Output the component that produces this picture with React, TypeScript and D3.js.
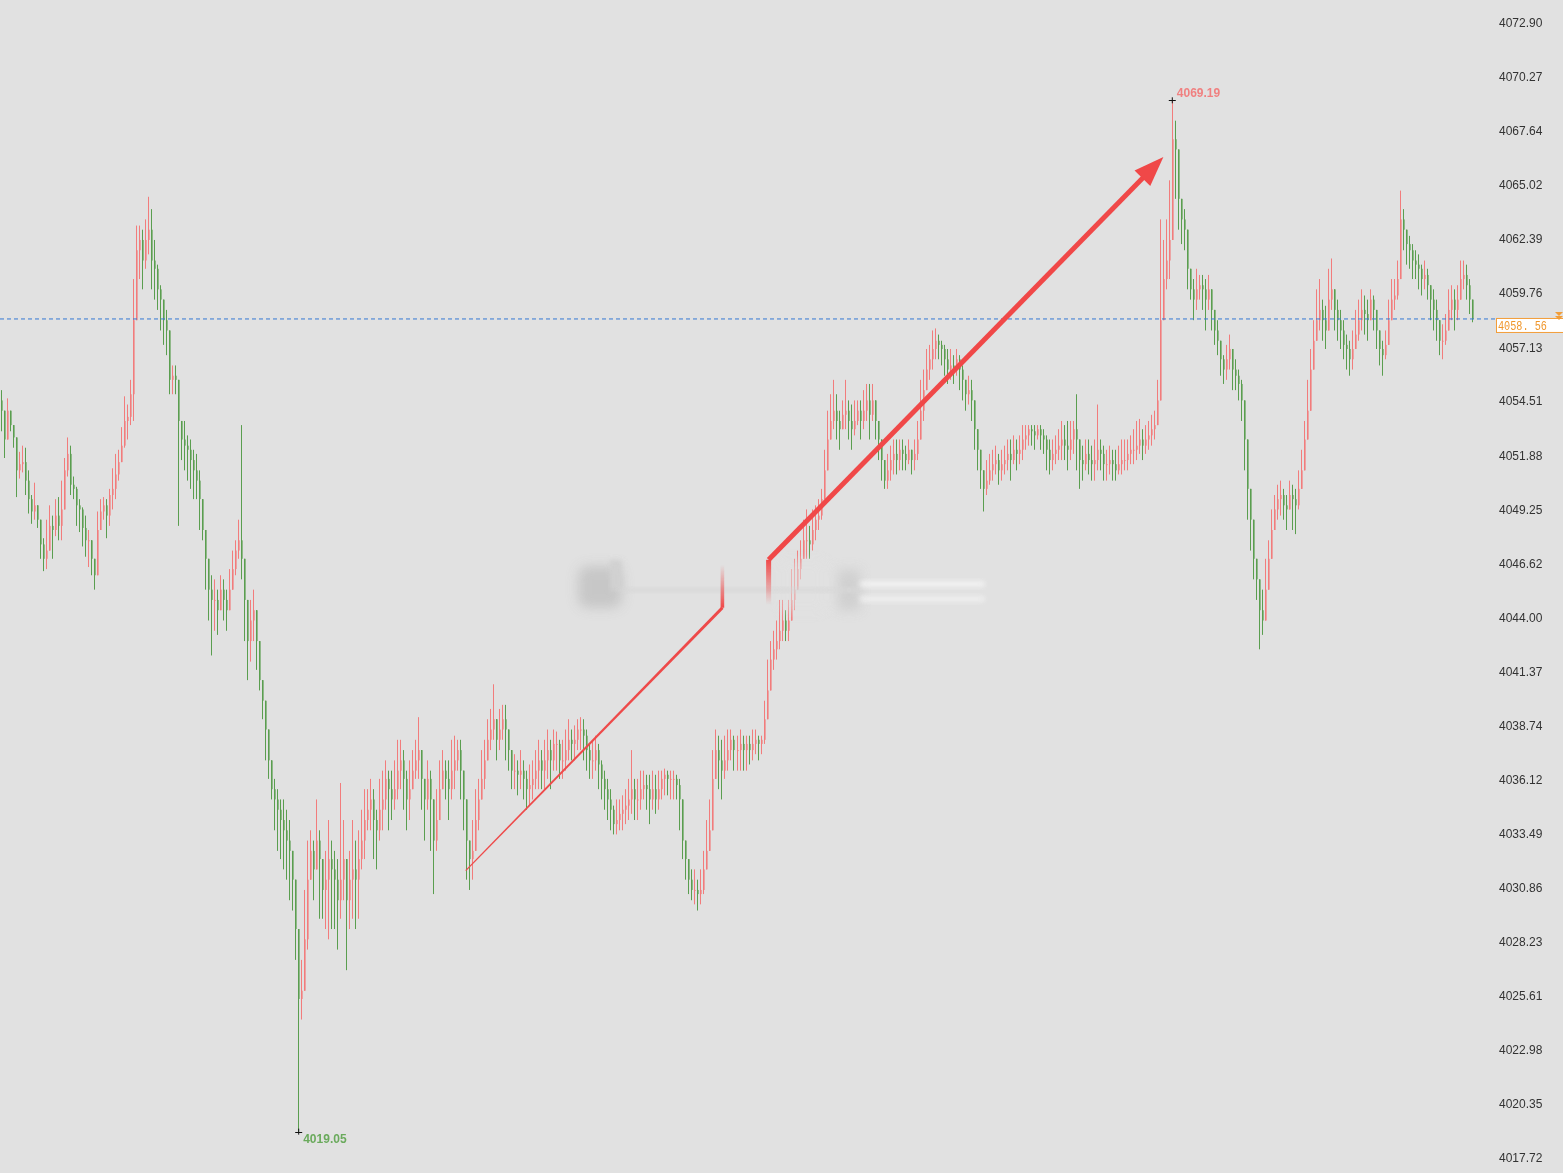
import React from 'react';
import * as d3 from 'd3';

const W = 1563;
const H = 1173;
const BASE = 4000;

// Candle closes (offset from 4000); open = previous close
const closeOff = [
  54.1, 52.7, 54.1, 53.4, 52.8, 51.2, 51.5, 51.6, 50.7, 49.8,
  49.2, 49.5, 48.8, 47.6, 46.9, 47.3, 48.5, 48.3, 49.0, 48.5,
  49.3, 51.2, 52.0, 50.5, 50.3, 49.5, 49.3, 48.4, 47.8, 47.8,
  46.9, 46.1, 48.3, 49.2, 49.5, 49.0, 50.0, 50.3, 51.0, 51.6,
  52.4, 53.6, 53.8, 54.9,
  58.5, 61.9, 62.4, 61.4, 62.4, 62.9, 61.4, 61.0, 60.0, 59.5,
  58.5, 58.0, 55.6, 55.8, 55.6, 53.6, 52.7, 52.4, 52.2, 51.7,
  51.2, 50.7, 49.8, 48.3, 46.9, 45.4, 44.9, 44.9, 44.4, 45.4,
  44.9, 44.4, 45.4, 46.4, 47.3, 47.8, 46.9, 44.9, 42.9, 43.9,
  44.4, 42.9, 41.0, 40.0, 38.6, 37.1, 35.7, 35.2, 34.7, 34.2,
  33.7, 33.2, 32.7, 31.3, 28.9, 25.5, 25.9, 28.4, 31.3, 32.7,
  31.8, 33.2, 32.3, 30.8, 31.3, 32.3, 31.8, 31.3, 30.3, 31.3,
  32.3, 30.3, 31.3, 31.8, 31.3, 32.3, 33.2, 34.2, 34.7, 35.2,
  34.2, 33.7, 34.7, 35.2, 36.2, 35.7, 35.2, 35.7, 36.6, 37.1,
  36.2, 35.2, 35.7, 36.6, 37.1, 37.6, 36.2, 35.2, 36.2, 35.2,
  33.2, 34.2, 35.7, 36.6, 36.2, 35.7, 36.6, 37.1, 37.6, 36.6,
  35.2, 33.2, 32.3, 32.7, 34.2, 35.2, 36.2, 37.1, 38.1, 38.6,
  39.1, 38.1, 38.6, 39.1, 38.6, 37.6, 36.6, 36.6, 36.4, 36.6,
  36.2, 35.7, 35.9, 36.2, 36.6, 37.1, 36.6, 37.1, 37.6, 37.1,
  37.9, 37.9, 37.1, 37.1, 37.6, 38.1, 37.9, 38.1, 38.6, 38.6,
  38.3, 37.6, 37.1, 37.1, 37.6, 36.9, 36.2, 35.7, 35.2, 34.7,
  34.0, 34.2, 34.5, 34.7, 34.9, 35.2, 35.7, 35.2, 35.2, 35.7,
  35.9, 35.7, 35.2, 35.7, 35.2, 35.7, 36.2, 36.4, 36.2, 36.2,
  36.2, 35.9, 35.2, 33.2, 32.3, 31.3, 30.8, 30.8, 30.6, 30.8,
  31.8, 32.7, 33.7, 36.2, 37.6, 37.1, 36.6, 37.1, 37.6, 38.1,
  37.6, 37.6, 37.9, 37.6, 37.9, 37.6, 37.9, 38.1, 37.9, 38.1,
  39.1, 40.5, 42.0, 42.5, 42.9, 43.4, 43.9, 43.4, 43.9, 44.9,
  45.4, 46.4, 46.9, 47.8, 47.8, 47.6, 48.3, 48.8, 49.0, 49.8,
  51.2, 52.7, 53.6, 54.1, 53.6, 53.2, 53.9, 54.1, 53.6, 53.2,
  53.6, 54.1, 53.6, 54.1, 54.6, 53.9, 54.6, 53.6, 52.7, 51.7,
  50.7, 51.2, 51.7, 52.0, 51.7, 52.2, 52.0, 51.7, 52.2, 51.7,
  52.0, 52.7, 54.1, 55.1, 56.1, 56.6, 57.1, 57.5, 57.3, 57.1,
  56.6, 56.1, 56.3, 56.1, 56.6, 56.1, 55.6, 54.9, 55.1, 54.6,
  53.2, 52.2, 51.2, 50.3, 50.7, 51.2, 51.5, 51.7, 51.2, 51.5,
  51.7, 52.0, 51.7, 52.2, 52.0, 52.2, 52.7, 52.9, 53.2, 53.1,
  52.9, 53.2, 52.9, 52.7, 52.2, 51.7, 52.0, 52.2, 52.4, 52.7,
  52.4, 52.2, 52.7, 53.2, 52.7, 51.7, 51.5, 52.0, 51.7, 51.5,
  51.7, 52.2, 52.0, 51.5, 51.5, 51.7, 51.5, 51.2, 51.5, 51.7,
  51.7, 52.0, 52.2, 52.2, 52.4, 52.7, 52.4, 52.7, 52.9, 53.2,
  53.4, 54.6, 58.5, 60.5, 61.4, 62.4, 67.3, 66.8, 64.4, 63.4,
  62.9, 61.0, 60.0, 59.5, 60.0, 60.2, 60.0, 59.5, 60.0, 59.0,
  58.0, 57.5, 56.6, 56.1, 56.6, 57.1, 56.1, 55.8, 55.4, 54.6,
  52.7, 50.3, 48.8, 46.9, 45.9, 44.4, 43.9, 45.4, 46.9, 48.3,
  49.3, 49.8, 50.0, 49.5, 49.3, 50.0, 49.8, 49.5, 50.3, 51.2,
  52.7, 54.1, 56.1, 57.5, 58.5, 59.0, 58.5, 58.0, 59.5, 60.0,
  59.0, 58.5, 58.0, 57.3, 57.1, 56.6, 57.1, 57.8, 58.5, 59.0,
  58.8, 58.5, 59.5, 59.0, 58.0, 57.1, 56.8, 57.3, 58.5, 59.5,
  59.7, 60.5, 63.4, 62.9, 62.2, 61.9, 61.4, 61.2, 61.0, 60.5,
  60.7, 60.2, 59.5, 59.0, 58.5, 57.5, 57.5, 58.0, 59.0, 59.5,
  59.0, 59.5, 60.5, 60.7, 60.2, 59.5, 58.56,
];

const highOff = [
  55.1, 53.4, 54.7, 54.1, 53.4, 52.3, 52.1, 52.4, 52.3, 51.2,
  50.0, 50.6, 49.5, 48.7, 47.9, 48.8, 49.5, 49.0, 49.8, 49.9,
  50.7, 51.8, 52.8, 52.4, 50.9, 50.4, 49.8, 49.4, 49.0, 48.3,
  47.4, 46.9, 49.2, 49.8, 49.9, 49.8, 50.3, 51.3, 52.0, 52.2,
  53.3, 54.8, 54.4, 55.6,
  60.5, 63.1, 63.1, 62.9, 63.4, 64.5, 63.9, 62.4, 61.2, 60.2,
  59.5, 59.0, 56.6, 56.3, 56.3, 54.6, 53.6, 53.6, 52.9, 52.7,
  52.2, 52.0, 51.2, 49.8, 47.8, 46.4, 46.1, 45.9, 45.4, 46.1,
  45.9, 45.4, 46.4, 47.3, 47.8, 48.8, 53.4, 45.9, 44.4, 44.9,
  45.4, 44.4, 42.5, 41.0, 39.6, 38.1, 36.6, 36.2, 35.7, 35.2,
  35.2, 34.7, 34.2, 32.3, 30.1, 28.4, 27.4, 30.8, 33.2, 33.7,
  33.2, 35.2, 33.7, 32.3, 32.7, 34.2, 33.2, 32.7, 32.3, 36.0,
  34.2, 31.8, 32.7, 34.2, 33.2, 33.7, 34.7, 35.7, 35.7, 36.2,
  35.7, 34.7, 36.2, 36.6, 37.1, 36.6, 36.6, 37.1, 38.1, 38.1,
  37.6, 36.6, 37.1, 37.6, 38.1, 39.2, 37.1, 36.2, 37.1, 36.6,
  34.7, 35.7, 37.1, 37.6, 37.1, 37.1, 38.1, 38.3, 38.1, 38.1,
  36.2, 34.7, 33.2, 34.2, 35.7, 36.2, 37.6, 38.1, 39.1, 39.6,
  40.8, 39.1, 39.6, 39.8, 39.8, 38.6, 37.6, 37.4, 37.1, 37.6,
  37.1, 36.6, 36.9, 37.1, 37.6, 38.1, 37.6, 38.1, 38.6, 38.1,
  38.6, 38.5, 38.1, 38.1, 38.6, 39.1, 38.6, 38.8, 39.1, 39.2,
  39.1, 38.6, 37.9, 38.1, 38.3, 37.9, 37.1, 36.6, 36.2, 35.7,
  34.9, 35.2, 35.2, 35.4, 35.7, 36.2, 37.6, 36.2, 36.2, 36.6,
  36.6, 36.4, 36.4, 36.6, 36.4, 36.6, 36.6, 36.7, 36.6, 36.6,
  36.6, 36.4, 36.2, 34.7, 33.2, 32.3, 31.8, 31.8, 31.3, 31.8,
  32.7, 34.2, 35.2, 37.6, 38.6, 38.3, 38.1, 38.3, 38.6, 38.6,
  38.3, 38.3, 38.6, 38.3, 38.3, 38.3, 38.6, 38.6, 38.3, 38.3,
  40.0, 42.0, 42.9, 43.4, 43.9, 44.9, 44.9, 44.4, 44.9, 46.4,
  46.9, 47.3, 47.8, 48.8, 49.3, 48.5, 49.3, 49.5, 49.8, 50.3,
  52.2, 54.1, 54.9, 55.6, 54.9, 54.1, 54.6, 55.6, 54.6, 54.4,
  54.6, 54.6, 54.6, 55.1, 55.4, 55.4, 55.4, 54.6, 53.6, 52.7,
  51.7, 52.0, 52.4, 52.7, 52.7, 52.7, 52.7, 52.4, 52.7, 52.2,
  52.7, 53.6, 55.6, 56.1, 57.1, 57.3, 58.0, 58.1, 57.8, 57.5,
  57.3, 57.1, 57.1, 56.8, 57.1, 56.8, 56.3, 55.6, 55.8, 55.6,
  54.1, 53.2, 52.2, 51.2, 51.7, 52.0, 52.2, 52.4, 52.0, 52.2,
  52.4, 52.7, 52.7, 52.9, 52.7, 52.9, 53.4, 53.4, 53.4, 53.4,
  53.4, 53.4, 53.4, 53.2, 52.9, 52.7, 52.7, 52.9, 53.2, 53.6,
  53.4, 53.6, 53.6, 53.6, 54.9, 52.7, 52.4, 52.7, 52.7, 52.4,
  52.7, 54.4, 52.7, 52.4, 52.2, 52.4, 52.2, 52.2, 52.4, 52.7,
  52.7, 52.7, 52.9, 53.2, 53.6, 53.7, 53.2, 53.4, 53.6, 53.9,
  54.1, 55.6, 63.4, 62.4, 63.4, 65.3, 69.19, 68.2, 65.8, 64.4,
  63.9, 61.9, 61.0, 60.5, 61.0, 60.7, 60.7, 60.5, 60.7, 59.7,
  59.0, 58.5, 57.5, 56.8, 57.3, 57.8, 57.1, 56.6, 56.1, 55.6,
  53.6, 51.2, 49.8, 48.3, 46.9, 45.9, 45.4, 46.9, 47.8, 49.3,
  50.0, 50.5, 50.7, 50.3, 50.0, 50.7, 50.5, 50.3, 51.2, 52.2,
  53.6, 55.6, 57.1, 58.5, 60.0, 60.5, 59.5, 59.2, 61.0, 61.5,
  60.0, 59.5, 59.0, 58.5, 57.8, 57.5, 58.0, 59.0, 59.5, 60.0,
  59.7, 59.5, 60.0, 59.7, 59.0, 58.0, 57.5, 58.0, 59.5, 60.5,
  60.5, 61.4, 64.8, 63.9, 62.9, 62.6, 62.2, 61.9, 61.7, 61.2,
  61.4, 61.0, 60.2, 60.0, 59.5, 58.5, 58.3, 58.8, 60.0, 60.2,
  60.0, 60.2, 61.4, 61.4, 61.2, 60.5, 59.5,
];

const lowOff = [
  53.1, 51.8, 53.1, 53.1, 52.3, 49.9, 50.8, 51.1, 50.0, 49.1,
  48.6, 48.8, 48.4, 46.9, 46.3, 46.4, 47.6, 46.9, 48.0, 47.8,
  47.8, 50.3, 50.9, 50.0, 49.8, 48.5, 48.2, 47.5, 47.0, 46.5,
  46.1, 45.4, 46.4, 48.5, 48.8, 47.9, 48.5, 49.3, 49.8, 50.7,
  51.6, 52.3, 52.7, 53.4,
  53.6, 59.5, 60.5, 60.0, 61.0, 61.7, 60.0, 59.5, 59.0, 58.0,
  57.3, 56.8, 54.9, 54.9, 54.9, 48.5, 51.7, 51.2, 50.7, 50.3,
  49.8, 49.8, 48.3, 47.8, 45.4, 43.9, 42.2, 43.4, 43.2, 44.4,
  43.9, 43.4, 44.4, 45.4, 46.1, 46.9, 45.9, 42.9, 41.0, 41.9,
  42.9, 41.5, 40.5, 39.1, 37.1, 36.2, 35.2, 33.7, 32.7, 32.3,
  31.8, 31.3, 30.3, 29.8, 27.4, 19.05, 24.5, 25.9, 27.9, 31.3,
  30.3, 31.8, 29.4, 29.4, 28.9, 28.4, 28.9, 28.9, 27.9, 29.4,
  30.3, 26.9, 28.9, 29.4, 28.9, 29.4, 31.8, 32.3, 33.7, 33.7,
  32.3, 31.8, 33.2, 33.7, 34.7, 33.7, 34.2, 34.7, 35.2, 35.7,
  34.7, 33.7, 34.2, 35.7, 36.2, 36.2, 34.7, 33.2, 34.7, 32.7,
  30.6, 32.7, 34.7, 35.7, 35.2, 34.2, 35.2, 35.7, 36.6, 35.2,
  33.7, 31.3, 30.8, 31.3, 32.7, 33.7, 35.2, 35.7, 37.1, 37.6,
  38.1, 37.1, 37.6, 38.1, 37.1, 36.6, 35.7, 35.7, 35.4, 35.7,
  35.2, 34.7, 34.9, 35.2, 35.7, 35.7, 35.7, 35.7, 36.2, 35.7,
  36.6, 36.6, 36.2, 36.2, 36.6, 37.1, 37.1, 37.1, 37.6, 37.6,
  37.1, 36.6, 36.2, 36.2, 36.6, 35.7, 35.2, 34.7, 34.2, 33.7,
  33.5, 33.5, 33.7, 33.7, 34.0, 34.2, 34.5, 34.2, 34.2, 34.7,
  35.2, 34.7, 34.0, 34.7, 34.5, 34.7, 35.2, 35.4, 35.4, 35.2,
  35.2, 35.2, 33.7, 32.3, 31.3, 30.6, 30.3, 30.1, 29.8, 30.1,
  30.6, 31.8, 32.7, 34.2, 36.2, 35.7, 35.2, 36.2, 36.6, 37.1,
  36.6, 36.6, 36.6, 36.6, 36.6, 36.9, 37.1, 37.4, 37.1, 37.4,
  37.9, 39.1, 40.5, 41.5, 42.0, 42.5, 42.9, 42.9, 42.9, 43.9,
  44.4, 45.4, 45.9, 46.9, 46.9, 46.9, 47.3, 47.8, 48.3, 48.8,
  49.8, 51.7, 52.7, 53.2, 52.7, 52.2, 53.2, 53.2, 52.7, 52.2,
  52.9, 53.4, 52.7, 53.2, 53.6, 52.7, 53.6, 52.7, 51.7, 50.7,
  50.3, 50.3, 50.7, 51.0, 51.0, 51.2, 51.2, 51.2, 51.5, 51.0,
  51.2, 51.7, 53.2, 53.6, 55.1, 55.6, 56.1, 56.6, 56.6, 56.3,
  55.8, 55.4, 55.6, 55.4, 55.8, 55.1, 54.6, 54.1, 54.4, 53.6,
  52.2, 51.2, 50.3, 49.2, 50.0, 50.5, 50.7, 51.0, 50.5, 50.7,
  51.0, 51.2, 50.7, 51.5, 51.2, 51.5, 51.7, 52.2, 52.4, 52.4,
  52.2, 52.7, 52.2, 52.0, 51.2, 51.0, 51.2, 51.5, 51.7, 51.7,
  51.7, 51.2, 51.7, 52.0, 51.2, 50.3, 50.7, 51.2, 51.0, 50.7,
  50.7, 51.2, 51.2, 50.7, 50.7, 51.0, 50.7, 50.7, 51.0, 51.0,
  51.2, 51.2, 51.5, 51.5, 51.7, 52.0, 51.7, 52.0, 52.2, 52.4,
  52.7, 53.6, 56.6, 58.5, 60.0, 60.5, 64.8, 64.4, 62.9, 62.2,
  61.9, 60.0, 59.5, 58.5, 59.0, 59.5, 59.0, 58.0, 59.0, 58.0,
  57.3, 56.8, 55.8, 55.4, 55.6, 56.1, 55.1, 55.1, 54.6, 53.6,
  51.2, 48.8, 47.3, 45.9, 44.9, 42.5, 43.2, 44.4, 45.9, 47.3,
  48.5, 48.8, 49.0, 48.8, 48.3, 49.3, 48.3, 48.1, 49.3, 50.3,
  51.7, 53.2, 55.1, 56.6, 57.5, 58.0, 57.5, 57.1, 58.5, 59.0,
  58.0, 57.5, 57.1, 56.6, 56.1, 55.8, 56.1, 57.1, 57.5, 58.0,
  57.8, 57.5, 58.5, 58.0, 57.1, 56.3, 55.8, 56.6, 57.5, 58.5,
  59.0, 59.5, 61.4, 61.9, 61.2, 61.0, 60.5, 60.5, 60.0, 59.7,
  60.0, 59.5, 58.5, 58.0, 57.5, 56.8, 56.6, 57.3, 58.0, 58.5,
  58.0, 58.5, 59.5, 60.0, 59.5, 58.8, 58.4,
];

const FIRST_OPEN = 4054.6;
const LAST_PRICE = 4058.56;

const tickLabels = [
  '4072.90', '4070.27', '4067.64', '4065.02', '4062.39', '4059.76', '4057.13',
  '4054.51', '4051.88', '4049.25', '4046.62', '4044.00', '4041.37', '4038.74',
  '4036.12', '4033.49', '4030.86', '4028.23', '4025.61', '4022.98', '4020.35', '4017.72',
];

// annotation arrow points: [candle index, price]
const thinArrow = [[154.8, 4031.74], [240.3, 4044.52]];
const thinArrowTail = [240.3, 4046.61];
const thickArrow = [[255.7, 4046.85], [387.2, 4066.44]];
const thickArrowTail = [255.7, 4044.67];

const UP = '#f27c7c';
const DOWN = '#5a9e4f';

function taper(p0: number[], p1: number[], w0: number, w1: number) {
  const dx = p1[0] - p0[0];
  const dy = p1[1] - p0[1];
  const len = Math.hypot(dx, dy);
  const nx = -dy / len, ny = dx / len;
  return [
    [p0[0] + nx * w0 / 2, p0[1] + ny * w0 / 2],
    [p1[0] + nx * w1 / 2, p1[1] + ny * w1 / 2],
    [p1[0] - nx * w1 / 2, p1[1] - ny * w1 / 2],
    [p0[0] - nx * w0 / 2, p0[1] - ny * w0 / 2],
  ].map((p) => p.join(',')).join(' ');
}

export default function App() {
  const n = closeOff.length;
  const candles = closeOff.map((c, i) => {
    const close = BASE + c;
    const open = i === 0 ? FIRST_OPEN : BASE + closeOff[i - 1];
    const high = BASE + highOff[i];
    const low = BASE + lowOff[i];
    return { i, open, close, high: Math.max(high, open, close), low: Math.min(low, open, close), rawHigh: high, rawLow: low };
  });

  const x = d3.scaleLinear().domain([0, n - 1]).range([1, 1472]);
  const y = d3.scaleLinear().domain([4017.72, 4072.90]).range([1159, 24]);

  const hiIdx = d3.maxIndex(candles, (d) => d.rawHigh);
  const loIdx = d3.minIndex(candles, (d) => d.rawLow);
  const hi = candles[hiIdx];
  const lo = candles[loIdx];

  const pt = (d: number[]) => [x(d[0]), y(d[1])];
  const t0 = pt(thinArrow[0]);
  const t1 = pt(thinArrow[1]);
  const tt = pt(thinArrowTail);
  const k0 = pt(thickArrow[0]);
  const tip = pt(thickArrow[1]);
  const kt = pt(thickArrowTail);
  const dx = tip[0] - k0[0], dy = tip[1] - k0[1];
  const L = Math.hypot(dx, dy);
  const ux = dx / L, uy = dy / L;
  const headLen = 30, headW = 22;
  const hb = [tip[0] - ux * headLen, tip[1] - uy * headLen];
  const head = [
    tip,
    [hb[0] - uy * headW / 2, hb[1] + ux * headW / 2],
    [hb[0] + uy * headW / 2, hb[1] - ux * headW / 2],
  ].map((p) => p.join(',')).join(' ');
  const lineEnd = [tip[0] - ux * (headLen - 4), tip[1] - uy * (headLen - 4)];

  const yLast = y(LAST_PRICE);

  return (
    <svg width={W} height={H} style={{ display: 'block', fontFamily: 'Arial, "Liberation Sans", sans-serif' }}>
      <style>{`body{margin:0;}`}</style>
      <defs>
        <filter id="blur6" x="-50%" y="-50%" width="200%" height="200%">
          <feGaussianBlur stdDeviation="6" />
        </filter>
        <filter id="blur3" x="-50%" y="-50%" width="200%" height="200%">
          <feGaussianBlur stdDeviation="2.5" />
        </filter>
        <linearGradient id="fadeUp" x1="0" y1="1" x2="0" y2="0">
          <stop offset="0" stopColor="#f04848" stopOpacity="1" />
          <stop offset="1" stopColor="#f04848" stopOpacity="0" />
        </linearGradient>
        <linearGradient id="fadeDown" x1="0" y1="0" x2="0" y2="1">
          <stop offset="0" stopColor="#f04848" stopOpacity="1" />
          <stop offset="1" stopColor="#f04848" stopOpacity="0" />
        </linearGradient>
      </defs>
      <rect x={0} y={0} width={W} height={H} fill="#e1e1e1" />

      {/* candles */}
      <g>
        {candles.map((d) => {
          const cx = Math.round(x(d.i));
          const col = d.close >= d.open ? UP : DOWN;
          const yt = y(Math.max(d.open, d.close));
          const yb = y(Math.min(d.open, d.close));
          return (
            <g key={d.i}>
              <line x1={cx + 0.5} x2={cx + 0.5} y1={y(d.high)} y2={y(d.low)} stroke={col} strokeWidth={1} />
              <rect x={cx} y={yt} width={1.6} height={Math.max(1, yb - yt)} fill={col} />
            </g>
          );
        })}
      </g>

      {/* last price dashed line */}
      <line x1={0} x2={1496} y1={yLast} y2={yLast} stroke="#3478d4" strokeWidth={1} strokeDasharray="4,3" />

      {/* watermark (blurred) */}
      <g opacity={0.9}>
        <rect x={578} y={566} width={44} height={42} rx={10} fill="#c4c4c4" filter="url(#blur6)" />
        <rect x={610} y={560} width={12} height={30} fill="#cfcfcf" filter="url(#blur3)" />
        <rect x={838} y={570} width={22} height={40} fill="#cdcdcd" filter="url(#blur6)" />
        <rect x={780} y={560} width={45} height={52} fill="#e1e1e1" opacity={0.6} filter="url(#blur6)" />
        <rect x={860} y={581} width={125} height={6} rx={3} fill="#f4f4f4" filter="url(#blur3)" />
        <rect x={860} y={596} width={125} height={6} rx={3} fill="#f0f0f0" filter="url(#blur3)" />
        <rect x={620} y={588} width={240} height={4} fill="#d6d6d6" filter="url(#blur3)" />
      </g>

      {/* annotation arrows */}
      <polygon points={taper(t0, t1, 1.2, 3.2)} fill="#ee4a4a" />
      <rect x={t1[0] - 1.8} y={tt[1]} width={3.6} height={t1[1] - tt[1]} fill="url(#fadeUp)" />
      <rect x={kt[0] - 2.5} y={k0[1]} width={5} height={kt[1] - k0[1]} fill="url(#fadeDown)" />
      <polygon points={taper(k0, lineEnd, 5, 5)} fill="#f04848" />
      <polygon points={head} fill="#f04848" />

      {/* high / low markers */}
      <g stroke="#111" strokeWidth={1}>
        <line x1={x(hiIdx) - 3} x2={x(hiIdx) + 4} y1={Math.round(y(hi.rawHigh)) + 0.5} y2={Math.round(y(hi.rawHigh)) + 0.5} />
        <line x1={x(hiIdx) + 0.5} x2={x(hiIdx) + 0.5} y1={y(hi.rawHigh) - 3} y2={y(hi.rawHigh) + 3} />
        <line x1={x(loIdx) - 3} x2={x(loIdx) + 4} y1={Math.round(y(lo.rawLow)) + 0.5} y2={Math.round(y(lo.rawLow)) + 0.5} />
        <line x1={x(loIdx) + 0.5} x2={x(loIdx) + 0.5} y1={y(lo.rawLow) - 3} y2={y(lo.rawLow) + 3} />
      </g>
      <text x={x(hiIdx) + 5} y={y(hi.rawHigh) - 3} fontSize={12} fontWeight="bold" fill="#f08080">{hi.rawHigh.toFixed(2)}</text>
      <text x={x(loIdx) + 5} y={y(lo.rawLow) + 11} fontSize={12} fontWeight="bold" fill="#6aaa5c">{lo.rawLow.toFixed(2)}</text>

      {/* y axis labels */}
      <g>
        {tickLabels.map((t) => (
          <text key={t} x={1499} y={y(+t)} dominantBaseline="middle" fontSize={12} fill="#333">{t}</text>
        ))}
      </g>

      {/* last price tag */}
      <rect x={1496.5} y={yLast - 0.5} width={70} height={14} fill="#ffffff" stroke="#f29d38" strokeWidth={1} />
      <text x={1498} y={yLast + 11.5} fontSize={13} fill="#f0962a" fontFamily='"Liberation Mono", "DejaVu Sans Mono", monospace' textLength={49} lengthAdjust="spacingAndGlyphs">4058. 56</text>
      <path d={`M1555,${yLast - 7} h8 l-4,4 z M1555,${yLast - 3} h8 l-4,4 z`} fill="#f29d38" />
    </svg>
  );
}
